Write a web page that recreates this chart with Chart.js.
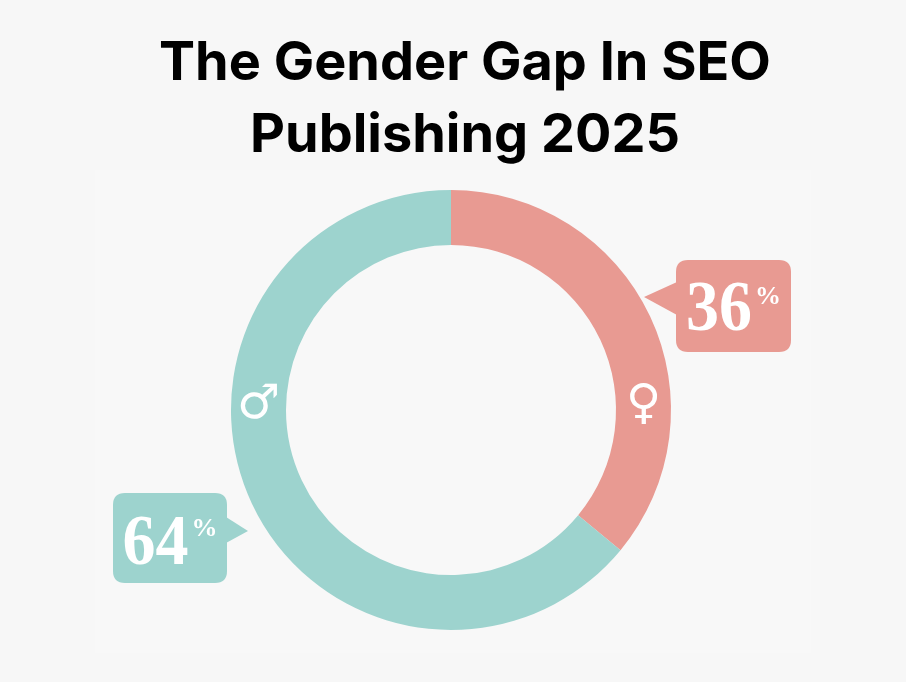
<!DOCTYPE html>
<html><head><meta charset="utf-8">
<script src="https://cdn.jsdelivr.net/npm/chart.js@4.4.1/dist/chart.umd.min.js"></script>
<style>html,body{margin:0;padding:0;background:#f7f7f7;overflow:hidden}#wrap{width:906px;height:682px;position:relative}</style>
</head><body><div id="wrap"><canvas id="c" width="906" height="682"></canvas></div>
<script>
const categories = ['Female', 'Male'];
const shares = [36, 64];
const genderSymbols = ['\u2640', '\u2642'];
const sliceColors = ['#e89a92', '#9dd3ce'];
const titleLines = ['The Gender Gap In SEO', 'Publishing 2025'];

const bgPlugin = {
  id: 'bg',
  beforeDraw(chart) {
    const ctx = chart.ctx;
    ctx.save();
    ctx.fillStyle = '#f7f7f7';
    ctx.fillRect(0, 0, chart.width, chart.height);
    ctx.fillStyle = '#f8f8f8';
    ctx.fillRect(95, 170, 716, 483);
    ctx.restore();
  }
};

const titlePlugin = {
  id: 'twoLineTitle',
  afterDraw(chart) {
    const ctx = chart.ctx;
    ctx.save();
    ctx.fillStyle = '#000000';
    ctx.font = '700 54px Inter, "Open Sans", sans-serif';
    ctx.textAlign = 'center';
    ctx.textBaseline = 'middle';
    titleLines.forEach((line, i) => {
      ctx.fillText(line, 465, 64 + i * 72);
    });
    ctx.restore();
  }
};

function roundRect(ctx, x, y, w, h, r) {
  ctx.moveTo(x + r, y);
  ctx.lineTo(x + w - r, y);
  ctx.quadraticCurveTo(x + w, y, x + w, y + r);
  ctx.lineTo(x + w, y + h - r);
  ctx.quadraticCurveTo(x + w, y + h, x + w - r, y + h);
  ctx.lineTo(x + r, y + h);
  ctx.quadraticCurveTo(x, y + h, x, y + h - r);
  ctx.lineTo(x, y + r);
  ctx.quadraticCurveTo(x, y, x + r, y);
}

// callout geometry relative to donut centre, in units of outer radius/220
const calloutGeom = [
  { box: [225, -150, 115, 92], tip: [193, -113], base: [-128, -95], side: 'left', numBase: 70, pctBase: 44 },
  { box: [-338, 83, 114, 90], tip: [-203, 121], base: [107, 133], side: 'right', numBase: 71, pctBase: 43 }
];
const symbolAngles = [90, 270];

const calloutPlugin = {
  id: 'callouts',
  afterDatasetsDraw(chart) {
    const ctx = chart.ctx;
    const meta = chart.getDatasetMeta(0);
    const values = chart.data.datasets[0].data;
    const colors = chart.data.datasets[0].backgroundColor;
    const labelsSym = chart.data.datasets[0].symbols;
    meta.data.forEach((arc, i) => {
      const cx = arc.x, cy = arc.y, R = arc.outerRadius, r = arc.innerRadius;
      const k = R / 220;
      const g = calloutGeom[i];
      const bx = cx + g.box[0] * k, by = cy + g.box[1] * k, bw = g.box[2] * k, bh = g.box[3] * k;
      ctx.save();
      ctx.fillStyle = colors[i];
      ctx.beginPath();
      roundRect(ctx, bx, by, bw, bh, 12 * k);
      ctx.fill();
      ctx.beginPath();
      const ex = g.side === 'left' ? bx + 1 : bx + bw - 1;
      ctx.moveTo(ex, cy + g.base[0] * k);
      ctx.lineTo(cx + g.tip[0] * k, cy + g.tip[1] * k);
      ctx.lineTo(ex, cy + g.base[1] * k);
      ctx.closePath();
      ctx.fill();
      // text
      const num = String(values[i]);
      ctx.fillStyle = '#ffffff';
      ctx.textBaseline = 'alphabetic';
      ctx.textAlign = 'left';
      const numFont = 'bold ' + Math.round(66 * k) + 'px "Liberation Serif", "DejaVu Serif", serif';
      const pctFont = 'bold ' + Math.round(26 * k) + 'px "Liberation Serif", "DejaVu Serif", serif';
      ctx.font = numFont;
      const nw = ctx.measureText(num).width;
      ctx.font = pctFont;
      const pw = ctx.measureText('%').width;
      const gap = 3 * k;
      const total = nw + gap + pw;
      const sx = bx + (bw - total) / 2;
      ctx.save();
      ctx.translate(sx, by + g.numBase * k);
      ctx.scale(1, 1.08);
      ctx.font = numFont;
      ctx.fillText(num, 0, 0);
      ctx.restore();
      ctx.font = pctFont;
      ctx.fillText('%', sx + nw + gap, by + g.pctBase * k);
      // gender symbol on ring
      const a = symbolAngles[i] * Math.PI / 180;
      const mr = (R + r) / 2;
      ctx.font = Math.round(48 * k) + 'px "DejaVu Sans", sans-serif';
      ctx.textAlign = 'center';
      ctx.textBaseline = 'middle';
      ctx.fillText(labelsSym[i], cx + mr * Math.sin(a), cy - mr * Math.cos(a) - 4 * k);
      ctx.restore();
    });
  }
};

new Chart(document.getElementById('c'), {
  type: 'doughnut',
  data: {
    labels: categories,
    datasets: [{
      data: shares,
      backgroundColor: sliceColors,
      borderWidth: 0,
      symbols: genderSymbols
    }]
  },
  options: {
    responsive: false,
    animation: false,
    cutout: '75%',
    layout: { padding: { top: 190, bottom: 52, left: 0, right: 4 } },
    plugins: {
      legend: { display: false },
      tooltip: { enabled: false },
      title: { display: false }
    },
    events: []
  },
  plugins: [bgPlugin, calloutPlugin, titlePlugin]
});
</script>
</body></html>
